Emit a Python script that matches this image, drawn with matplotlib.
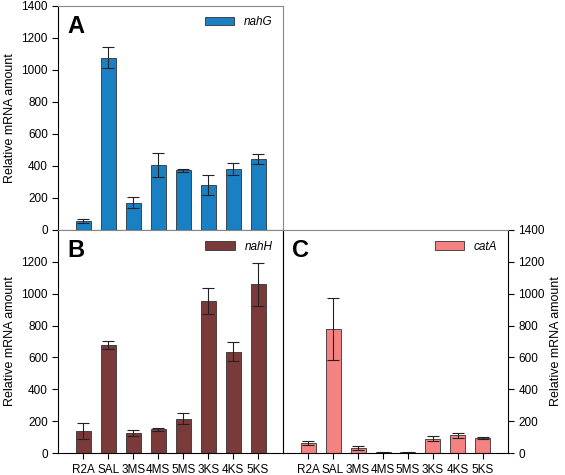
import numpy as np
import matplotlib
matplotlib.use('Agg')
import matplotlib.pyplot as plt

plt.rcParams['font.family'] = ['Liberation Sans', 'DejaVu Sans']

categories = ['R2A', 'SAL', '3MS', '4MS', '5MS', '3KS', '4KS', '5KS']
nahG = [55, 1075, 170, 408, 372, 282, 380, 443]
nahG_err = [15, 65, 35, 75, 8, 62, 35, 30]
nahH = [140, 678, 125, 150, 215, 955, 635, 1058]
nahH_err = [50, 25, 18, 10, 35, 80, 60, 135]
catA = [62, 780, 30, 5, 5, 90, 112, 95]
catA_err = [12, 195, 12, 2, 3, 15, 15, 8]

fig = plt.figure(figsize=(5.65, 4.75), dpi=100)
axA = fig.add_axes([0.103, 0.516, 0.398, 0.472])
axB = fig.add_axes([0.103, 0.046, 0.398, 0.470])
axC = fig.add_axes([0.501, 0.046, 0.398, 0.470])

x = np.arange(len(categories))
panels = [
    (axA, nahG, nahG_err, '#1a80c4', 'nahG', 'A'),
    (axB, nahH, nahH_err, '#7b3a3a', 'nahH', 'B'),
    (axC, catA, catA_err, '#f48282', 'catA', 'C'),
]
for ax, vals, err, col, lab, letter in panels:
    ax.bar(x, vals, 0.6, yerr=err, color=col, edgecolor='#333333', linewidth=0.6,
           capsize=4, error_kw=dict(elinewidth=0.8, capthick=0.8, ecolor='#222222'),
           label=lab)
    ax.set_xlim(-1, 8)
    ax.set_ylim(0, 1400)
    ax.set_yticks(range(0, 1401, 200))
    ax.set_xticks(x)
    ax.tick_params(direction='out', labelsize=8.5, length=4)
    for s in ax.spines.values():
        s.set_color('#888888')
    ax.spines['left'].set_color('black')
    ax.spines['bottom'].set_color('black')
    ax.text(0.04, 0.96, letter, transform=ax.transAxes, fontsize=17,
            fontweight='bold', va='top', ha='left')
    leg = ax.legend(loc='upper right', frameon=False, fontsize=8.5,
                    handlelength=2.5, prop={'style': 'italic', 'size': 8.5})

axA.set_xticklabels([])
axA.set_ylabel('Relative mRNA amount', fontsize=9)
axB.set_ylabel('Relative mRNA amount', fontsize=9)
axB.set_xticklabels(categories)
axB.set_yticks(range(0, 1201, 200))
axC.set_xticklabels(categories)
axC.yaxis.tick_right()
axC.yaxis.set_label_position('right')
axC.set_ylabel('Relative mRNA amount', fontsize=9)
axC.spines['left'].set_color('black')
axC.spines['right'].set_color('black')

fig.savefig('out.png', dpi=100, facecolor='white')
